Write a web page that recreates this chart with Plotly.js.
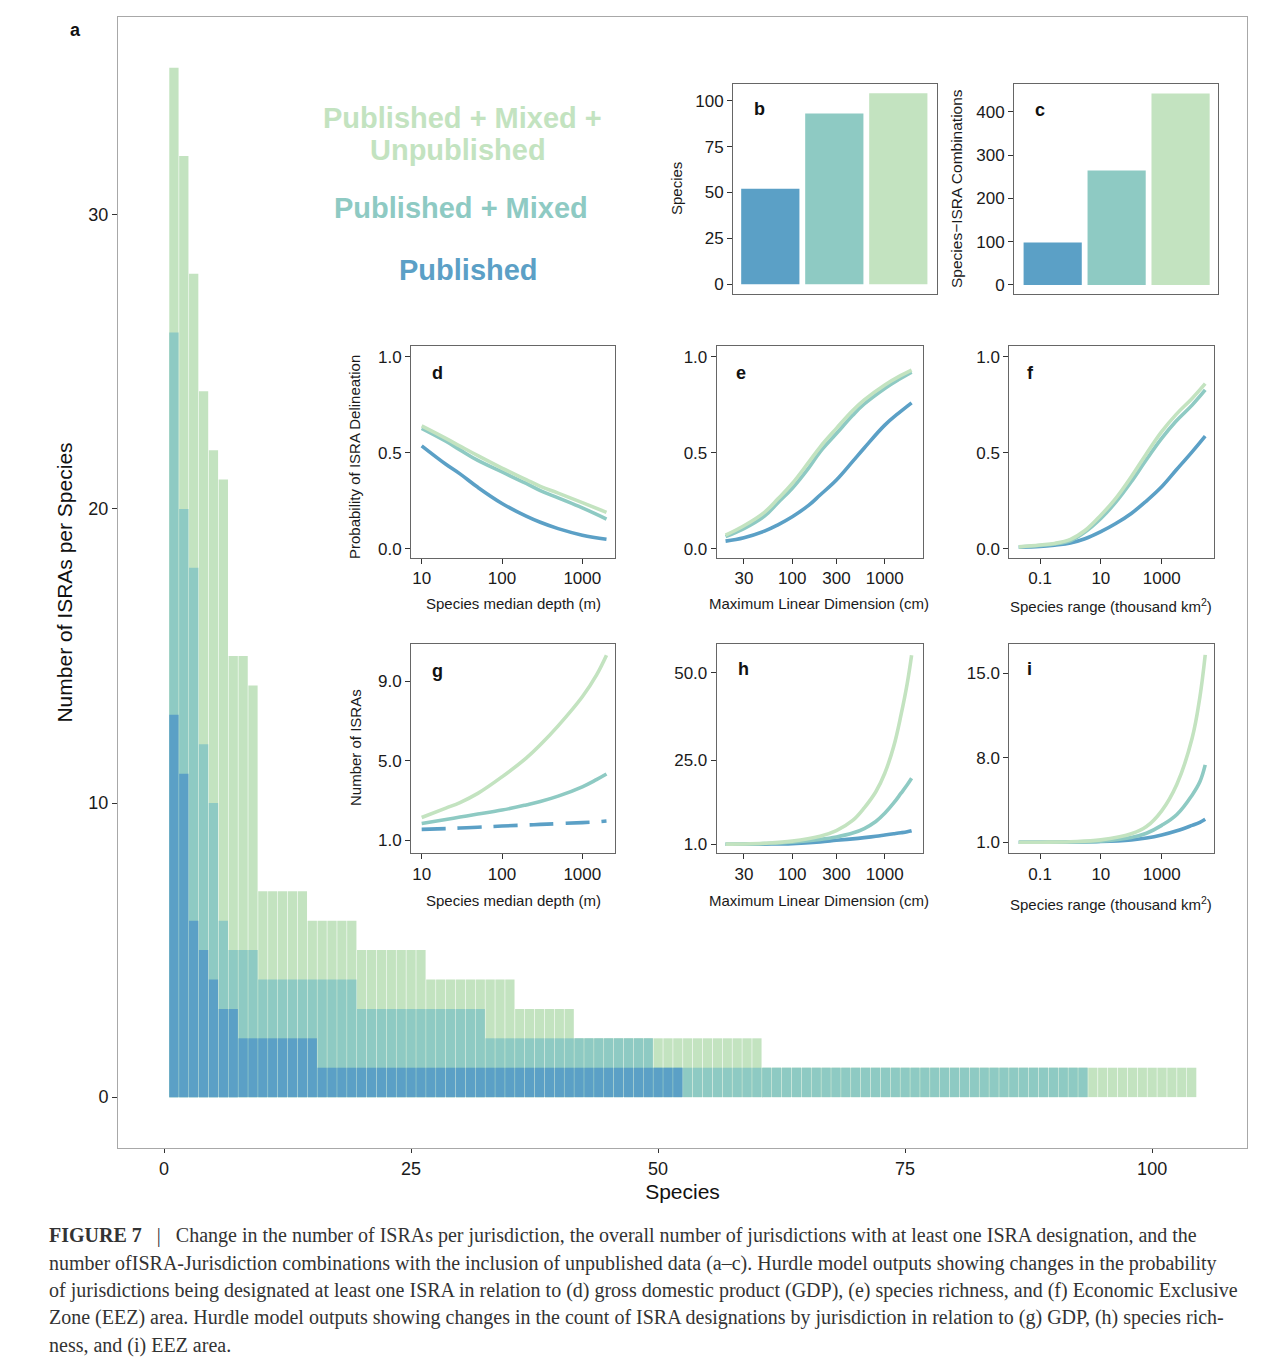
<!DOCTYPE html>
<html>
<head>
<meta charset="utf-8">
<script src="https://cdn.plot.ly/plotly-3.0.1.min.js"></script>
<style>html,body{margin:0;padding:0;background:#fff;}#chart{width:1280px;height:1368px;}</style>
</head>
<body>
<div id="chart"></div>
<script>
// ---------- DATA ----------
const seriesNames = ["Published", "Published + Mixed", "Published + Mixed + Unpublished"];

// Panel a: ISRAs per species, each series ranked independently
const countsPublished = [13,11,6,5,4,3,3,
  2,2,2,2,2,2,2,2,
  1,1,1,1,1,1,1,1,1,1, 1,1,1,1,1,1,1,1,1,1, 1,1,1,1,1,1,1,1,1,1, 1,1,1,1,1,1,1];
const countsMixed = [26,20,18,12,10,6,5,5,5,
  4,4,4,4,4,4,4,4,4,4,
  3,3,3,3,3,3,3,3,3,3,3,3,3,
  2,2,2,2,2,2,2,2,2,2,2,2,2,2,2,2,2,
  1,1,1,1,1,1,1,1,1,1,1, 1,1,1,1,1,1,1,1,1,1,1, 1,1,1,1,1,1,1,1,1,1,1, 1,1,1,1,1,1,1,1,1,1,1];
const countsUnpub = [35,32,28,24,22,21,15,15,14,
  7,7,7,7,7,
  6,6,6,6,6,
  5,5,5,5,5,5,5,
  4,4,4,4,4,4,4,4,4,
  3,3,3,3,3,3,
  2,2,2,2,2,2,2,2,2,2,2,2,2,2,2,2,2,2,2,
  1,1,1,1,1,1,1,1,1,1,1, 1,1,1,1,1,1,1,1,1,1,1, 1,1,1,1,1,1,1,1,1,1,1, 1,1,1,1,1,1,1,1,1,1,1];

// Panel b / c
const barCats = [1, 2, 3];
const speciesTotals = [52, 93, 104];
const comboTotals = [98, 264, 442];

// Panel d: species median depth (m)
const depthD = [10, 20, 30, 50, 100, 200, 300, 500, 1000, 2000];
const dPub   = [0.536, 0.44, 0.39, 0.32, 0.236, 0.17, 0.138, 0.105, 0.071, 0.05];
const dMix   = [0.627, 0.56, 0.515, 0.46, 0.40, 0.34, 0.303, 0.265, 0.213, 0.155];
const dUnp   = [0.64, 0.575, 0.535, 0.485, 0.42, 0.36, 0.325, 0.29, 0.24, 0.19];
// Panel g
const depthG = [10, 20, 30, 50, 100, 200, 300, 500, 1000, 1500, 2000];
const gPub   = [1.55, 1.59, 1.62, 1.66, 1.72, 1.77, 1.80, 1.84, 1.89, 1.93, 1.97];
const gMix   = [1.85, 2.05, 2.17, 2.32, 2.52, 2.78, 2.95, 3.22, 3.69, 4.05, 4.33];
const gUnp   = [2.15, 2.62, 2.9, 3.36, 4.19, 5.13, 5.8, 6.75, 8.21, 9.3, 10.3];

// Panel e: maximum linear dimension (cm)
const mldE = [19, 30, 50, 70, 100, 150, 200, 300, 450, 600, 1000, 1400, 1950];
const ePub = [0.04, 0.058, 0.092, 0.125, 0.167, 0.226, 0.28, 0.358, 0.455, 0.525, 0.644, 0.705, 0.76];
const eMix = [0.063, 0.105, 0.17, 0.24, 0.315, 0.42, 0.505, 0.60, 0.695, 0.754, 0.835, 0.88, 0.92];
const eUnp = [0.071, 0.12, 0.19, 0.26, 0.34, 0.45, 0.53, 0.627, 0.72, 0.775, 0.853, 0.895, 0.93];
// Panel h
const mldH = [19, 30, 50, 100, 200, 300, 450, 600, 800, 1000, 1250, 1500, 1750, 1950];
const hPub = [1.0, 1.0, 1.05, 1.2, 1.7, 2.15, 2.55, 2.9, 3.3, 3.65, 4.0, 4.3, 4.6, 4.9];
const hMix = [1.0, 1.05, 1.2, 1.6, 2.4, 3.1, 4.2, 5.5, 7.5, 9.85, 12.8, 15.6, 18.0, 19.85];
const hUnp = [1.05, 1.1, 1.3, 1.9, 3.3, 4.9, 7.8, 11.4, 16.0, 21.3, 29.0, 38.0, 47.0, 55.0];

// Panel f: species range (thousand km2)
const rangeF = [0.02, 0.1, 0.3, 1, 3, 10, 30, 100, 300, 1000, 3000, 10000, 27000];
const fPub = [0.008, 0.012, 0.019, 0.03, 0.052, 0.089, 0.13, 0.184, 0.246, 0.323, 0.41, 0.505, 0.587];
const fMix = [0.009, 0.017, 0.025, 0.042, 0.087, 0.158, 0.24, 0.349, 0.46, 0.575, 0.665, 0.748, 0.827];
const fUnp = [0.010, 0.02, 0.028, 0.049, 0.095, 0.175, 0.26, 0.375, 0.49, 0.61, 0.70, 0.783, 0.86];
// Panel i
const rangeI = [0.02, 0.1, 1, 10, 100, 316, 1000, 3160, 10000, 18000, 27000];
const iPub = [1.0, 1.0, 1.02, 1.06, 1.2, 1.35, 1.6, 1.95, 2.4, 2.65, 2.9];
const iMix = [1.0, 1.01, 1.03, 1.1, 1.4, 1.75, 2.4, 3.3, 4.9, 6.0, 7.4];
const iUnp = [1.0, 1.01, 1.05, 1.2, 1.7, 2.3, 3.6, 5.8, 9.6, 13.0, 16.5];

// ---------- STYLE ----------
const C_PUB = '#5ba0c6', C_MIX = '#8ecac3', C_UNP = '#c3e3c0';
const W = 1280, H = 1368;
const FONT = 'Liberation Sans, Arial, Helvetica, sans-serif';
const px = (a, b) => [a / W, b / W];
const py = (top, bottom) => [1 - bottom / H, 1 - top / H];
const rank = arr => arr.map((_, i) => i + 1);

const traces = [];
// Panel a bars (back to front)
[[countsUnpub, C_UNP, seriesNames[2]], [countsMixed, C_MIX, seriesNames[1]], [countsPublished, C_PUB, seriesNames[0]]]
  .forEach(([v, c, n]) => traces.push({type: 'bar', x: rank(v), y: v, name: n, marker: {color: c, line: {width: 0}},
    xaxis: 'x', yaxis: 'y', showlegend: false, hoverinfo: 'x+y'}));

traces.push({type: 'bar', x: barCats, y: speciesTotals, width: 0.91, marker: {color: [C_PUB, C_MIX, C_UNP]}, xaxis: 'x2', yaxis: 'y2', showlegend: false});
traces.push({type: 'bar', x: barCats, y: comboTotals, width: 0.91, marker: {color: [C_PUB, C_MIX, C_UNP]}, xaxis: 'x3', yaxis: 'y3', showlegend: false});

function curves(xs, ys3, ax, dashPub) {
  const cols = [C_PUB, C_MIX, C_UNP];
  ys3.forEach((ys, k) => traces.push({type: 'scatter', mode: 'lines', x: xs, y: ys, name: seriesNames[k],
    line: {color: cols[k], width: 3.6, shape: 'spline', smoothing: 1.1, dash: (k === 0 && dashPub) ? '24px,12px' : 'solid'},
    xaxis: 'x' + ax, yaxis: 'y' + ax, showlegend: false}));
}
curves(depthD, [dPub, dMix, dUnp], 4);
curves(mldE, [ePub, eMix, eUnp], 5);
curves(rangeF, [fPub, fMix, fUnp], 6);
curves(depthG, [gPub, gMix, gUnp], 7, true);
curves(mldH, [hPub, hMix, hUnp], 8);
curves(rangeI, [iPub, iMix, iUnp], 9);

// ---------- LAYOUT ----------
function ax(domain, range, extra) {
  return Object.assign({domain: domain, range: range, showline: true, mirror: true, linecolor: '#666', linewidth: 1,
    ticks: 'outside', ticklen: 5, tickcolor: '#333', tickwidth: 1, showgrid: false, zeroline: false,
    tickfont: {family: FONT, size: 17, color: '#1a1a1a'}, fixedrange: true}, extra || {});
}
const XD = px(411, 615), XE = px(716.7, 922.7), XF = px(1009.3, 1214);
const YTOP = py(346, 558), YBOT = py(644, 853.3);
const probTicks = {tickvals: [0, 0.5, 1], ticktext: ['0.0', '0.5', '1.0']};

const layout = {
  width: W, height: H, margin: {l: 0, r: 0, t: 0, b: 0},
  paper_bgcolor: '#fff', plot_bgcolor: '#fff', barmode: 'overlay', bargap: 0.06,
  showlegend: false, font: {family: FONT, color: '#1a1a1a'},
  xaxis: ax(px(118, 1247), [-4.66, 109.6], {linecolor: '#a8a8a8', tickvals: [0, 25, 50, 75, 100], ticklen: 4, tickfont: {family: FONT, size: 18, color: '#1a1a1a'},
    title: {text: 'Species', font: {family: FONT, size: 21, color: '#111'}, standoff: 6}}),
  yaxis: ax(py(17, 1148), [-1.73, 36.73], {linecolor: '#a8a8a8', tickvals: [0, 10, 20, 30], tickfont: {family: FONT, size: 18, color: '#1a1a1a'},
    title: {text: 'Number of ISRAs per Species', font: {family: FONT, size: 21, color: '#111'}, standoff: 10}}),
  xaxis2: ax(px(733, 936.7), [0.417, 3.6], {anchor: 'y2', showticklabels: false, ticks: ''}),
  yaxis2: ax(py(84, 294.3), [-5.45, 109.1], {anchor: 'x2', tickvals: [0, 25, 50, 75, 100]}),
  xaxis3: ax(px(1014, 1218.3), [0.395, 3.59], {anchor: 'y3', showticklabels: false, ticks: ''}),
  yaxis3: ax(py(84, 294.3), [-21.5, 463.9], {anchor: 'x3', tickvals: [0, 100, 200, 300, 400]}),
  xaxis4: ax(XD, [0.867, 3.407], {anchor: 'y4', type: 'log', tickvals: [10, 100, 1000], ticktext: ['10', '100', '1000']}),
  yaxis4: ax(YTOP, [-0.048, 1.056], Object.assign({anchor: 'x4'}, probTicks)),
  xaxis5: ax(XE, [1.183, 3.41], {anchor: 'y5', type: 'log', tickvals: [30, 100, 300, 1000], ticktext: ['30', '100', '300', '1000']}),
  yaxis5: ax(YTOP, [-0.048, 1.056], Object.assign({anchor: 'x5'}, probTicks)),
  xaxis6: ax(XF, [-2.01, 4.72], {anchor: 'y6', type: 'log', tickvals: [0.1, 10, 1000], ticktext: ['0.1', '10', '1000']}),
  yaxis6: ax(YTOP, [-0.048, 1.056], Object.assign({anchor: 'x6'}, probTicks)),
  xaxis7: ax(XD, [0.867, 3.407], {anchor: 'y7', type: 'log', tickvals: [10, 100, 1000], ticktext: ['10', '100', '1000']}),
  yaxis7: ax(YBOT, [0.35, 10.86], {anchor: 'x7', tickvals: [1, 5, 9], ticktext: ['1.0', '5.0', '9.0']}),
  xaxis8: ax(XE, [1.183, 3.41], {anchor: 'y8', type: 'log', tickvals: [30, 100, 300, 1000], ticktext: ['30', '100', '300', '1000']}),
  yaxis8: ax(YBOT, [-1.57, 58.2], {anchor: 'x8', tickvals: [1, 25, 50], ticktext: ['1.0', '25.0', '50.0']}),
  xaxis9: ax(XF, [-2.01, 4.72], {anchor: 'y9', type: 'log', tickvals: [0.1, 10, 1000], ticktext: ['0.1', '10', '1000']}),
  yaxis9: ax(YBOT, [0.09, 17.4], {anchor: 'x9', tickvals: [1, 8, 15], ticktext: ['1.0', '8.0', '15.0']}),
  annotations: []
};

function note(text, x, y, opts) {
  layout.annotations.push(Object.assign({text: text, x: x / W, y: 1 - y / H, xref: 'paper', yref: 'paper',
    xanchor: 'center', yanchor: 'middle', showarrow: false, font: {family: FONT, size: 15, color: '#1a1a1a'}}, opts || {}));
}
const bold18 = {font: {family: FONT, size: 18, color: '#111'}};
note('<b>a</b>', 75, 30, bold18);
note('<b>b</b>', 759, 109, bold18);
note('<b>c</b>', 1040, 110, bold18);
note('<b>d</b>', 437, 373, bold18);
note('<b>e</b>', 741, 373, bold18);
note('<b>f</b>', 1030, 373, bold18);
note('<b>g</b>', 437, 671, bold18);
note('<b>h</b>', 743, 669, bold18);
note('<b>i</b>', 1029, 669, bold18);

// legend-like labels
const leg = (c) => ({font: {family: FONT, size: 29, color: c}});
note('<b>Published + Mixed +</b>', 462, 118, leg(C_UNP));
note('<b>Unpublished</b>', 458, 150, leg(C_UNP));
note('<b>Published + Mixed</b>', 461, 208, leg(C_MIX));
note('<b>Published</b>', 468, 270, leg(C_PUB));

// inset axis titles
note('Species', 676, 189, {textangle: -90});
note('Species\u2212ISRA Combinations', 956, 189, {textangle: -90, font: {family: FONT, size: 15.5, color: '#1a1a1a'}});
note('Probability of ISRA Delineation', 355, 457, {textangle: -90});
note('Number of ISRAs', 355, 748, {textangle: -90});
note('Species median depth (m)', 513, 603);
note('Maximum Linear Dimension (cm)', 819, 603);
note('Species range (thousand km<sup>2</sup>)', 1111, 606);
note('Species median depth (m)', 513, 900);
note('Maximum Linear Dimension (cm)', 819, 900);
note('Species range (thousand km<sup>2</sup>)', 1111, 903);

// caption
const capLines = [
  '<b>FIGURE 7</b>\u00a0\u00a0\u00a0|\u00a0\u00a0\u00a0Change in the number of ISRAs per jurisdiction, the overall number of jurisdictions with at least one ISRA designation, and the',
  'number ofISRA-Jurisdiction combinations with the inclusion of unpublished data (a\u2013c). Hurdle model outputs showing changes in the probability',
  'of jurisdictions being designated at least one ISRA in relation to (d) gross domestic product (GDP), (e) species richness, and (f) Economic Exclusive',
  'Zone (EEZ) area. Hurdle model outputs showing changes in the count of ISRA designations by jurisdiction in relation to (g) GDP, (h) species rich-',
  'ness, and (i) EEZ area.'
];
const capY = [1235, 1263, 1290, 1317, 1345];
capLines.forEach((t, k) => note(t, 47, capY[k], {xanchor: 'left', align: 'left',
  font: {family: 'Liberation Serif, Times New Roman, serif', size: 20, color: '#333'}}));

Plotly.newPlot('chart', traces, layout, {staticPlot: true, displayModeBar: false});
</script>
</body>
</html>
